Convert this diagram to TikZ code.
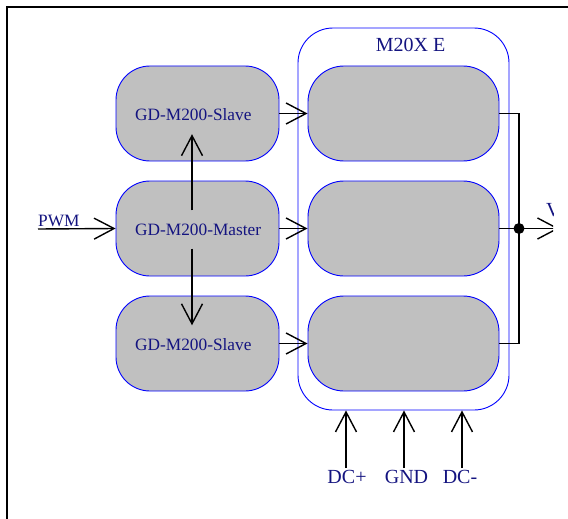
\documentclass[tikz,border=0pt]{standalone}
\usepackage{fontspec}
\setmainfont{Liberation Serif}
\usetikzlibrary{arrows.meta}
\definecolor{txtblue}{RGB}{20,20,128}
\definecolor{boxgray}{RGB}{192,192,192}
\tikzset{
  boxnode/.style={draw=blue, line width=0.9pt, fill=boxgray, rounded corners=34pt, minimum width=163pt, minimum height=95pt, inner sep=0pt},
  rboxnode/.style={draw=blue, line width=0.9pt, fill=boxgray, rounded corners=36pt, minimum width=191pt, minimum height=95pt, inner sep=0pt},
  lbl/.style={text=txtblue, font=\fontsize{17.3}{20}\selectfont, inner sep=0pt, minimum height=38pt, anchor=west},
  biglbl/.style={text=txtblue, font=\fontsize{20}{24}\selectfont, inner sep=0pt},
  conn/.style={line width=1.4pt, draw=black},
  arr/.style={conn, -{Straight Barb[length=20pt,width=21pt,line width=1.4pt]}},
}
\begin{document}
\begin{tikzpicture}[x=1pt,y=-1pt]
\useasboundingbox (0,0) rectangle (568,519);
\draw[line width=1.6pt] (7,7) rectangle (640,640);
\begin{scope}
\clip (0,0) rectangle (553,519);
% container
\node[draw=blue, line width=0.9pt, rounded corners=35pt, minimum width=211pt, minimum height=382pt, inner sep=0pt] (cont) at (403.5,219) {};
\node[biglbl] (conttitle) at (410.5,45) {M20X E};
% left boxes
\node[boxnode] (s1) at (197.5,113.5) {};
\node[boxnode] (m) at (197.5,228.5) {};
\node[boxnode] (s2) at (197.5,343.5) {};
% right boxes
\node[rboxnode] (r1) at (403.5,113.5) {};
\node[rboxnode] (r2) at (403.5,228.5) {};
\node[rboxnode] (r3) at (403.5,343.5) {};
% labels
\node[lbl] (s1l) at (135,115) {GD-M200-Slave};
\node[lbl] (ml) at (135,229.5) {GD-M200-Master};
\node[lbl] (s2l) at (135,344.5) {GD-M200-Slave};
% vertical arrows
\draw[arr] (ml.north -| 192,0) -- (s1l.south -| 192,0);
\draw[arr] (ml.south -| 192,0) -- (s2l.north -| 192,0);
% horizontal arrows
\draw[arr] (s1.east) -- (r1.west);
\draw[arr] (m.east) -- (r2.west);
\draw[arr] (s2.east) -- (r3.west);
% PWM
\coordinate (pwm) at (38,229);
\draw[arr] (pwm) -- (m.west);
\node[biglbl, font=\fontsize{17.3}{20}\selectfont, anchor=base west] (pwml) at (38,226) {PWM};
% output
\coordinate (j) at (519,228.5);
\coordinate (out) at (559,228.5);
\draw[conn] (r1.east) -| (j) |- (r3.east);
\draw[conn] (r2.east) -- (j);
\draw[arr] (j) -- (out);
\fill (j) circle (5.5pt);
\node[biglbl, anchor=base west] (vl) at (546,216.5) {V};
% DC inputs
\coordinate (a1) at (346,468);
\coordinate (a2) at (404,468);
\coordinate (a3) at (462,468);
\draw[arr] (a1) -- (a1 |- cont.south);
\draw[arr] (a2) -- (a2 |- cont.south);
\draw[arr] (a3) -- (a3 |- cont.south);
\node[biglbl] (dcp) at (347,477) {DC+};
\node[biglbl] (gnd) at (406.5,477) {GND};
\node[biglbl] (dcm) at (460,477) {DC-};
\end{scope}
\end{tikzpicture}
\end{document}
